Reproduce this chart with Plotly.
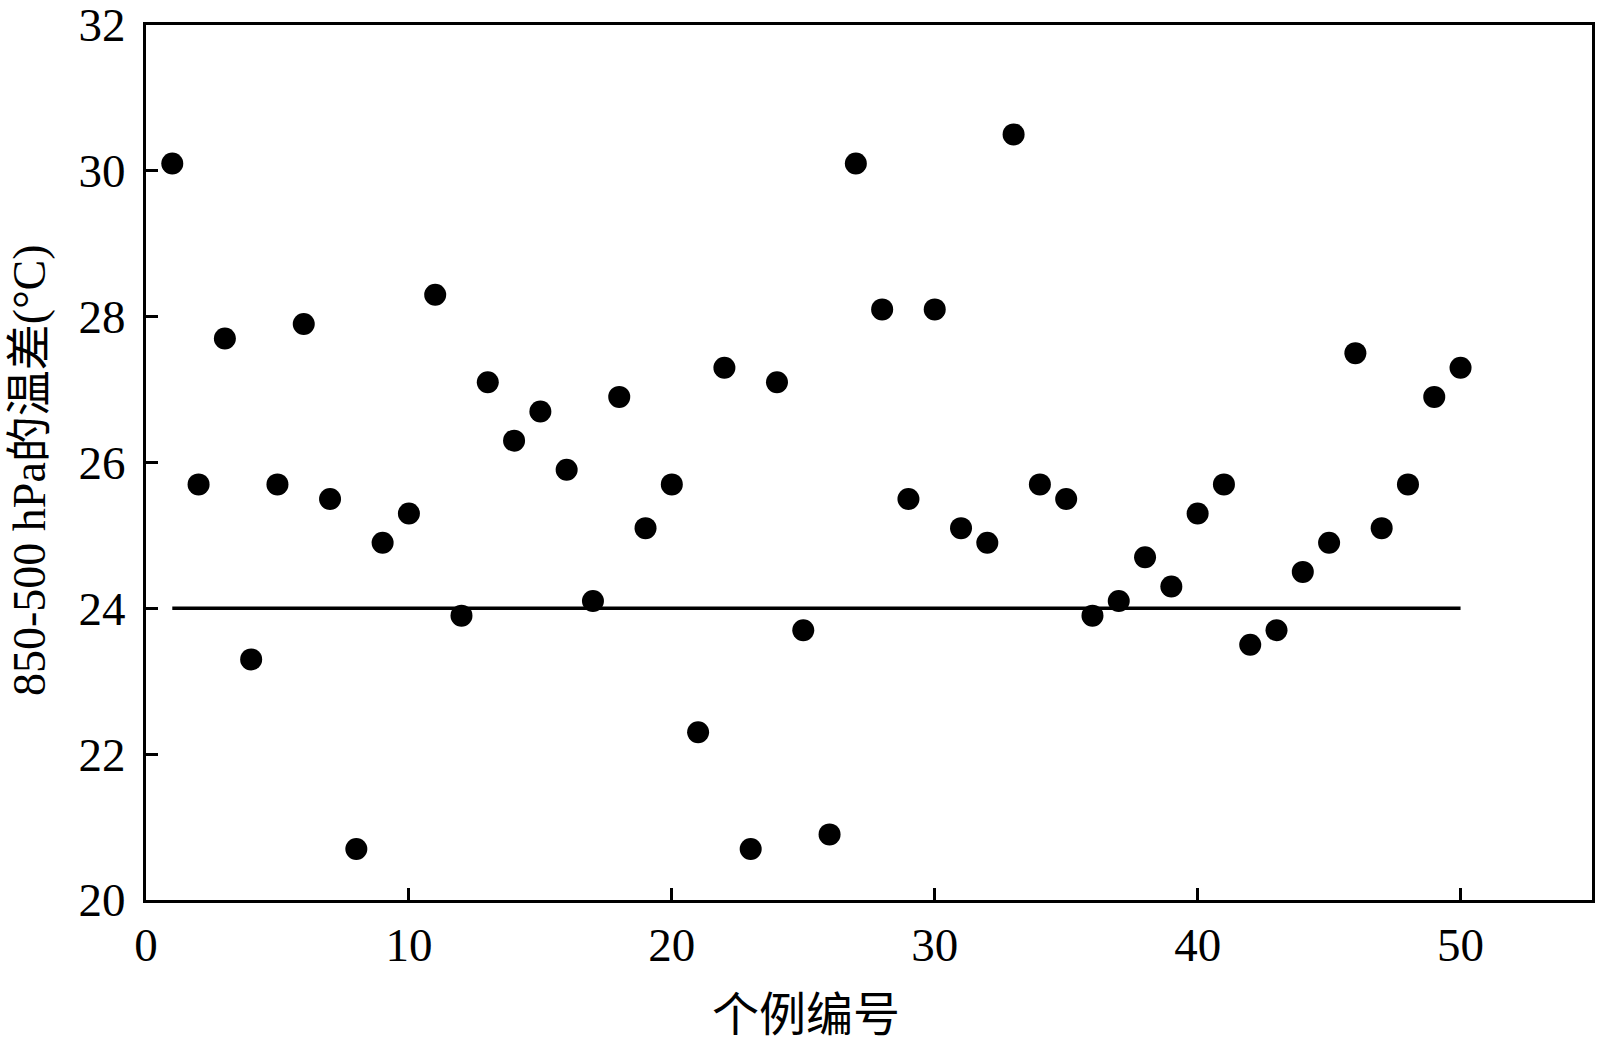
import plotly.graph_objects as go

case_ids = list(range(1, 51))
temp_diff = [30.1, 25.7, 27.7, 23.3, 25.7, 27.9, 25.5, 20.7, 24.9, 25.3,
             28.3, 23.9, 27.1, 26.3, 26.7, 25.9, 24.1, 26.9, 25.1, 25.7,
             22.3, 27.3, 20.7, 27.1, 23.7, 20.9, 30.1, 28.1, 25.5, 28.1,
             25.1, 24.9, 30.5, 25.7, 25.5, 23.9, 24.1, 24.7, 24.3, 25.3,
             25.7, 23.5, 23.7, 24.5, 24.9, 27.5, 25.1, 25.7, 26.9, 27.3]
threshold_x = [1, 50]
threshold_y = [24, 24]

FONT = "Liberation Serif, Times New Roman, Noto Sans CJK SC, serif"

W, H = 1600, 1047
l, r, t, b = 146, 8, 25, 147
pw, ph = W - l - r, H - t - b

fig = go.Figure()
fig.add_trace(go.Scatter(x=threshold_x, y=threshold_y, mode="lines",
                         line=dict(color="black", width=3.5), showlegend=False))
fig.add_trace(go.Scatter(x=case_ids, y=temp_diff, mode="markers",
                         marker=dict(color="black", size=22), showlegend=False))

axis_common = dict(showgrid=False, zeroline=False, showline=True, linecolor="black",
                   linewidth=3, mirror=True, ticks="inside", ticklen=12, tickwidth=3,
                   tickcolor="black", automargin=False, ticklabeloverflow="allow",
                   tickfont=dict(family=FONT, size=47, color="black"))

fig.update_layout(
    width=W, height=H,
    margin=dict(l=l, r=r, t=t, b=b),
    paper_bgcolor="white", plot_bgcolor="white",
    xaxis=dict(range=[0, 55], tickvals=[0, 10, 20, 30, 40, 50], ticklabelstandoff=2,
               **axis_common),
    yaxis=dict(range=[20, 32], tickvals=[20, 22, 24, 26, 28, 30, 32], ticklabelstandoff=8,
               **axis_common),
    annotations=[
        dict(text="个例编号", x=(806 - l) / pw, y=1 - (1015 - t) / ph,
             xref="paper", yref="paper", xanchor="center", yanchor="middle",
             showarrow=False, font=dict(family=FONT, size=47, color="black")),
        dict(text="850-500 hPa的温差(°C)", x=(29 - l) / pw, y=1 - (470 - t) / ph,
             xref="paper", yref="paper", xanchor="center", yanchor="middle",
             textangle=-90, showarrow=False, font=dict(family=FONT, size=46, color="black")),
    ],
)

fig.write_html("out.html", config={"displayModeBar": False})

# remove default body margin so the figure sits at the page origin
with open("out.html", "r", encoding="utf-8") as f:
    html = f.read()
html = html.replace("<head>", "<head><style>html,body{margin:0;padding:0;}</style>", 1)
with open("out.html", "w", encoding="utf-8") as f:
    f.write(html)
